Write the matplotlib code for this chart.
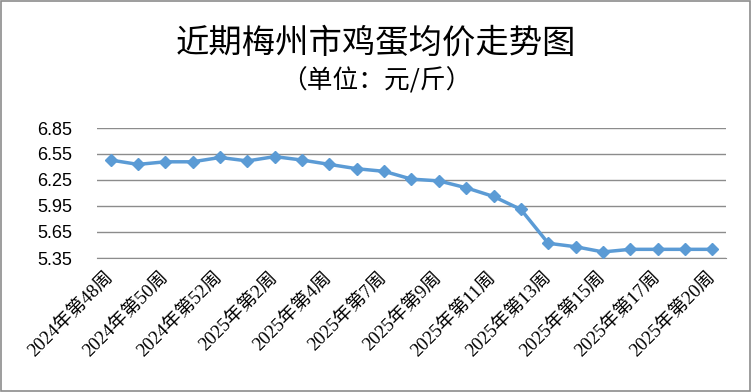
import matplotlib
matplotlib.use("Agg")
import matplotlib.pyplot as plt
from matplotlib.patches import Rectangle

weeks = ["2024年第48周", "2024年第49周", "2024年第50周", "2024年第51周", "2024年第52周",
         "2025年第1周", "2025年第2周", "2025年第3周", "2025年第4周", "2025年第5周",
         "2025年第7周", "2025年第8周", "2025年第9周", "2025年第10周", "2025年第11周",
         "2025年第12周", "2025年第13周", "2025年第14周", "2025年第15周", "2025年第16周",
         "2025年第17周", "2025年第18周", "2025年第20周"]
prices = [6.48, 6.43, 6.46, 6.46, 6.51, 6.47, 6.52, 6.48, 6.43, 6.38,
          6.35, 6.26, 6.24, 6.16, 6.06, 5.91, 5.52, 5.48, 5.42, 5.45,
          5.45, 5.45, 5.45]
yticks = [5.35, 5.65, 5.95, 6.25, 6.55, 6.85]

title = "近期梅州市鸡蛋均价走势图"
subtitle = "（单位：元/斤）"

cjk = ['Noto Sans CJK SC', 'DejaVu Sans']
mixed = ['Liberation Serif', 'Noto Sans CJK SC']

fig = plt.figure(figsize=(7.52, 3.92), dpi=100)
ax = fig.add_axes([97/752, 1-258/392, (726-97)/752, 130/392])

x = list(range(len(weeks)))
ax.plot(x, prices, color='#5B9BD5', linewidth=2.5, marker='D', markersize=6.5,
        markerfacecolor='#5B9BD5', markeredgecolor='#5B9BD5', zorder=3)

ax.set_xlim(-0.5, len(weeks) - 0.5)
ax.set_ylim(yticks[0], yticks[-1])
ax.set_yticks(yticks)
ax.set_yticklabels([f"{v:.2f}" for v in yticks], family='Liberation Sans', fontsize=13)
ax.yaxis.grid(True, color='#8C8C8C', linewidth=1)
ax.set_axisbelow(True)
for s in ['left', 'right', 'top']:
    ax.spines[s].set_visible(False)
ax.spines['bottom'].set_color('#8C8C8C')
ax.tick_params(axis='both', length=0)
ax.tick_params(axis='y', pad=18)

ax.set_xticks(x[::2])
ax.set_xticklabels(weeks[::2], rotation=45, ha='right', va='center',
                   rotation_mode='anchor', family=mixed, fontsize=13.5)
ax.tick_params(axis='x', pad=12)

fig.text(0.5, 1-43/392, title, ha='center', va='center', family=cjk, fontsize=24)
fig.text(0.5, 1-81/392, subtitle, ha='center', va='center', family=cjk, fontsize=18.5)

fig.patches.append(Rectangle((0.001, 0.002), 0.997, 0.996, transform=fig.transFigure,
                             fill=False, edgecolor='#8C8C8C', linewidth=1.2))

fig.savefig("out.png", dpi=100)
